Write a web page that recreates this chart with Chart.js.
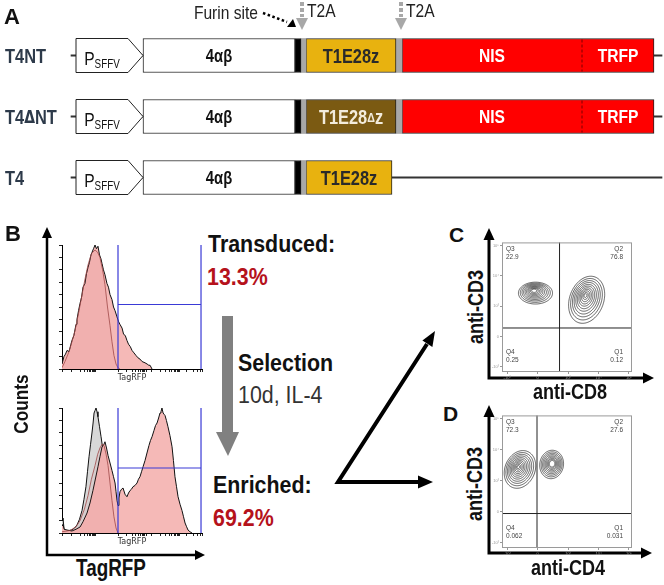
<!DOCTYPE html>
<html>
<head>
<meta charset="utf-8">
<script src="https://cdn.jsdelivr.net/npm/chart.js@4/dist/chart.umd.min.js"></script>
<style>
  body { margin: 0; background: #fff; width: 664px; height: 585px; overflow: hidden; position: relative; }
  canvas, svg { position: absolute; }
  .t { position: absolute; line-height: 1; white-space: nowrap; transform: translateY(-50%) scaleX(0.82);
       transform-origin: left center; font-family: 'Liberation Sans', Arial, sans-serif; color: #111; }
  .w { transform: translateY(-50%) scaleX(0.93); }
  .c { transform: translate(-50%, -50%) scaleX(0.82); transform-origin: center center; }
  .r { transform: translate(-50%, -50%) rotate(-90deg) scaleX(0.82); transform-origin: center center; }
  .b { font-weight: bold; }
  .L { font-weight: bold; transform: translateY(-50%); }
  .red { color: #b5121b; }
</style>
</head>
<body>

<svg width="664" height="585" viewBox="0 0 664 585">
  <!-- panel B outer axes -->
  <polyline points="47,236 47,555 196,555" fill="none" stroke="#000" stroke-width="2.5"/>
  <polygon points="42,238 52,238 47,227" fill="#000"/>
  <polygon points="195,550 195,560 205,555" fill="#000"/>
  <!-- selection arrow -->
  <polygon points="222,316 233,316 233,432 239,432 228,456 216,432 222,432" fill="#808080"/>
  <!-- arrows to C and D -->
  <polyline points="427,344 338,482 420,482" fill="none" stroke="#000" stroke-width="4" stroke-linejoin="miter"/>
  <polygon points="435,331 432.4,347.1 422.4,340.5" fill="#000"/>
  <polygon points="418,475.5 418,488.5 433,482" fill="#000"/>
  <!-- C axes -->
  <polyline points="489,238 489,378 644,378" fill="none" stroke="#000" stroke-width="3"/>
  <polygon points="483.5,240 494.5,240 489,228" fill="#000"/>
  <polygon points="643,372.5 643,383.5 654,378" fill="#000"/>
  <!-- D axes -->
  <polyline points="489,415 489,553 642,553" fill="none" stroke="#000" stroke-width="3"/>
  <polygon points="483.5,417 494.5,417 489,405" fill="#000"/>
  <polygon points="641,547.5 641,558.5 652,553" fill="#000"/>
</svg>

<canvas id="constructs" width="664" height="208" style="left:0;top:0"></canvas>
<canvas id="hist1" width="147" height="141" style="left:59px;top:242px"></canvas>
<canvas id="hist2" width="147" height="142" style="left:59px;top:405px"></canvas>
<canvas id="flowC" width="144" height="141" style="left:490px;top:239px"></canvas>
<canvas id="flowD" width="144" height="144" style="left:490px;top:412px"></canvas>

<div class="t L" style="left:4px;top:17px;font-size:22px">A</div>
<div class="t L" style="left:5px;top:234px;font-size:22px">B</div>
<div class="t L" style="left:449px;top:234px;font-size:21px">C</div>
<div class="t L" style="left:443px;top:413px;font-size:21px">D</div>

<div class="t b r" style="left:20px;top:404px;font-size:21px">Counts</div>
<div class="t b c" style="left:111px;top:568px;font-size:23px">TagRFP</div>
<div class="t b w" style="left:208px;top:243.5px;font-size:23px">Transduced:</div>
<div class="t b w red" style="left:207px;top:276.5px;font-size:23px">13.3%</div>
<div class="t b w" style="left:238px;top:363px;font-size:23px">Selection</div>
<div class="t w" style="left:238px;top:395px;font-size:23px;color:#333">10d, IL-4</div>
<div class="t b w" style="left:213px;top:485px;font-size:23px">Enriched:</div>
<div class="t b w red" style="left:213px;top:518px;font-size:23px">69.2%</div>

<div class="t b r" style="left:476px;top:307px;font-size:22px">anti-CD3</div>
<div class="t b c" style="left:570px;top:392px;font-size:22px">anti-CD8</div>
<div class="t b r" style="left:475px;top:484px;font-size:22px">anti-CD3</div>
<div class="t b c" style="left:568px;top:568px;font-size:22px">anti-CD4</div>

<script>
/* ---------- Panel A: construct maps (positions along the vector, in map units) ---------- */
var rows = ['T4NT', 'T4ΔNT', 'T4'];
var backboneSpan = [[71, 662], [71, 662], [71, 662]];
var promoterSpan = [[76, 143], [76, 143], [76, 143]];
var tcrSpan = [[143, 295], [143, 295], [143, 295]];
var furinSpan = [[295, 301], [295, 301], [295, 301]];
var t2aSpan1 = [[301, 306], [301, 306], [301, 306]];
var carSpan = [[306, 396], [306, 396], [306, 392]];
var t2aSpan2 = [[396, 402], [396, 402], null];
var nisSpan = [[402, 582], [402, 582], null];
var trfpSpan = [[582, 654], [582, 654], null];
var carColors = ['#e8b20f', '#7b5a12', '#e8b20f'];
var t2aSites = [302, 401];
var furinMark = 291;

/* ---------- Panel B: TagRFP histograms (channel, % of max) ---------- */
var transX = [0, 14, 25, 36, 50, 64, 71, 85, 100, 107, 118, 129, 140, 150, 164, 175, 186, 196, 207, 214, 225, 236, 246, 257, 268, 278, 286, 296, 307, 321, 332, 343, 357, 368, 379, 393, 405, 414, 429, 440, 452, 464, 475, 488, 500, 514, 528, 543, 557, 572, 593, 608, 620, 629, 643];
var transY = [4, 10, 12, 15, 14, 20, 23, 27, 36, 40, 47, 53, 58, 66, 69, 77, 82, 86, 92, 94, 97, 100, 97, 99, 92, 89, 85, 80, 76, 69, 66, 60, 56, 50, 47, 42, 38, 36, 33, 28, 27, 23, 20, 18, 15, 13, 11, 9, 8, 6, 5, 4, 3, 3, 0];
var ctrl1X = [0, 21, 50, 71, 93, 120, 143, 165, 186, 210, 236, 255, 271, 290, 307, 325, 343, 357, 371, 386, 400, 414];
var ctrl1Y = [1, 6, 14, 22, 31, 46, 60, 73, 84, 93, 96, 94, 90, 80, 68, 50, 35, 22, 11, 4, 1, 0];

var enrX = [0, 7, 15, 36, 71, 100, 129, 150, 179, 200, 221, 240, 257, 271, 286, 296, 307, 318, 329, 343, 357, 368, 379, 386, 393, 400, 407, 414, 425, 436, 450, 464, 475, 486, 496, 507, 521, 536, 546, 557, 568, 579, 593, 607, 621, 632, 643, 657, 668, 679, 690, 700, 707, 714, 722, 729, 736, 746, 757, 771, 786, 796, 807, 818, 829, 843, 857, 868, 879, 890, 900, 914, 929];
var enrY = [6, 7, 3, 2.4, 1.6, 3, 4.8, 9, 16, 24, 34, 44, 53, 61, 69, 70, 73, 68, 62, 56, 50, 45, 40, 33, 26, 22, 28, 33, 35, 36, 31, 29, 32, 34, 35, 37, 38, 40, 43, 45, 49, 53, 58, 64, 70, 74, 77, 82, 86, 88, 92, 96, 97, 100, 96, 95, 94, 90, 85, 78, 69, 58, 45, 37, 29, 23, 18, 13, 8, 5, 2.4, 1, 0];
var grayX = [0, 7, 15, 29, 50, 71, 90, 107, 125, 143, 157, 171, 182, 193, 204, 214, 222, 229, 236, 243, 250, 257, 268, 279, 293, 307, 318, 329, 343, 357, 371, 386, 400];
var grayY = [10, 12, 3, 2, 2, 2.5, 4, 6.4, 11, 18, 27, 37, 49, 61, 71, 80, 88, 96, 98, 100, 97, 93, 85, 77, 66, 54, 44, 34, 24, 14, 7, 2.4, 0];
var ctrl2X = [0, 57, 100, 129, 160, 186, 210, 236, 255, 271, 286, 300, 315, 329, 343, 357, 371, 386, 400];
var ctrl2Y = [1, 2, 5, 10, 19, 30, 43, 54, 63, 68, 71, 70, 63, 54, 40, 26, 13, 4, 0];

var gateX = [400, 993];
var gateLevel = 52;
var histTicks = [0, 70, 130, 160, 180, 195, 207, 217, 225, 232, 238, 400, 460, 500, 525, 545, 560, 572, 582, 590, 600, 640, 700, 740, 765, 785, 800, 812, 822, 830, 840, 890, 940, 970, 990, 1000];

/* ---------- Panels C, D: contour populations (axis decades) ---------- */
var decadeTicks = [0, 1, 2, 3, 4];
var decadeLabels = ['-10³', '0', '10³', '10⁴', '10⁵'];
var ringScale = [1, 0.88, 0.77, 0.67, 0.57, 0.48, 0.39, 0.31, 0.23, 0.15, 0.08];
var quadNames = ['Q3', 'Q2', 'Q4', 'Q1'];
var quadC = [1.72, 1.28];
var quadValsC = ['22.9', '76.8', '0.25', '0.12'];
var cdCLeft = { outer: [0.93, 2.43], dense: [0.88, 2.52], a: 0.56, b: 0.36, tilt: 0, levels: 10 };
var cdCRight = { outer: [2.61, 2.21], dense: [2.57, 2.36], a: 0.56, b: 0.8, tilt: -20, levels: 11 };
var quadD = [0.98, 0.94];
var quadValsD = ['72.3', '27.6', '0.062', '0.031'];
var cdDLeft = { outer: [0.42, 2.36], dense: [0.36, 2.44], a: 0.49, b: 0.63, tilt: -25, levels: 11 };
var cdDRight = { outer: [1.46, 2.52], dense: [1.48, 2.55], a: 0.39, b: 0.46, tilt: -10, levels: 9 };

var FONT = "'Liberation Sans', Arial, sans-serif";
var NARROW = 0.82;

// text in a narrow face: Liberation Sans squeezed horizontally. part = [text, size, dy, bold, family]
function drawParts(ctx, parts, cx, cy, color, align) {
  var fontOf = function(p) { return (p[3] ? 'bold ' : '') + p[1] + 'px ' + (p[4] || FONT); };
  var widths = parts.map(function(p) {
    ctx.font = fontOf(p);
    return ctx.measureText(p[0]).width * NARROW;
  });
  var total = widths.reduce(function(a, b) { return a + b; }, 0);
  var x = align === 'left' ? cx : (align === 'right' ? cx - total : cx - total / 2);
  ctx.save();
  ctx.fillStyle = color;
  ctx.textAlign = 'left';
  ctx.textBaseline = 'alphabetic';
  parts.forEach(function(p, i) {
    ctx.save();
    ctx.translate(x, cy + p[2] + 0.36 * p[1]);
    ctx.scale(NARROW, 1);
    ctx.font = fontOf(p);
    ctx.fillText(p[0], 0, 0);
    ctx.restore();
    x += widths[i];
  });
  ctx.restore();
}

// split a row name so its delta uses a known face
function nameParts(name) {
  return name.split(/(Δ)/).filter(Boolean).map(function(s) {
    return s === 'Δ' ? [s, 17, 0, true, "'DejaVu Sans', sans-serif"] : [s, 20, 0, true];
  });
}

/* draws promoter arrows, dashed NIS|TRFP junction, box labels, row names, T2A / furin marks */
var constructPlugin = {
  id: 'construct',
  afterDatasetsDraw: function(chart) {
    var ctx = chart.ctx;
    var xs = chart.scales.x, ys = chart.scales.y;
    ctx.save();
    chart.data.datasets.forEach(function(ds, i) {
      var meta = chart.getDatasetMeta(i);
      meta.data.forEach(function(bar, j) {
        if (ds.data[j] == null) return;
        var left = Math.min(bar.x, bar.base), right = Math.max(bar.x, bar.base);
        var top = bar.y - bar.height / 2, bottom = bar.y + bar.height / 2;
        var cx = (left + right) / 2;
        if (ds.promoter) {
          ctx.beginPath();
          ctx.moveTo(left, top); ctx.lineTo(right - 15, top); ctx.lineTo(right, bar.y);
          ctx.lineTo(right - 15, bottom); ctx.lineTo(left, bottom); ctx.closePath();
          ctx.fillStyle = '#fff'; ctx.fill();
          ctx.lineWidth = 1; ctx.strokeStyle = '#222'; ctx.stroke();
          cx = (left + right - 15) / 2;
        }
        if (ds.dashedStart) {
          ctx.beginPath(); ctx.setLineDash([3, 2]);
          ctx.moveTo(left, top + 1); ctx.lineTo(left, bottom - 1);
          ctx.strokeStyle = '#7a0000'; ctx.lineWidth = 1; ctx.stroke();
          ctx.setLineDash([]);
        }
        if (ds.segLabel) {
          var parts = Array.isArray(ds.segLabel[0][0]) ? ds.segLabel[j] : ds.segLabel;
          var col = Array.isArray(ds.labelColor) ? ds.labelColor[j] : ds.labelColor;
          drawParts(ctx, parts, cx, bar.y, col);
        }
      });
    });
    chart.data.labels.forEach(function(name, j) {
      drawParts(ctx, nameParts(name), 5, ys.getPixelForValue(j), '#2d3a4a', 'left');
    });
    t2aSites.forEach(function(s) {
      var px = xs.getPixelForValue(s);
      ctx.beginPath(); ctx.setLineDash([4, 2]);
      ctx.moveTo(px, 2); ctx.lineTo(px, 17);
      ctx.strokeStyle = '#a8a8a8'; ctx.lineWidth = 4; ctx.stroke();
      ctx.setLineDash([]);
      ctx.beginPath(); ctx.moveTo(px - 6, 18); ctx.lineTo(px + 6, 18); ctx.lineTo(px, 30); ctx.closePath();
      ctx.fillStyle = '#a8a8a8'; ctx.fill();
      drawParts(ctx, [['T2A', 19, 0, false]], px + 5, 10, '#222', 'left');
    });
    var fx = xs.getPixelForValue(furinMark);
    drawParts(ctx, [['Furin site', 19, 0, false]], fx - 33, 12, '#222', 'right');
    ctx.beginPath(); ctx.setLineDash([2.5, 2.5]);
    ctx.moveTo(fx - 28, 13); ctx.lineTo(fx - 4, 22);
    ctx.strokeStyle = '#000'; ctx.lineWidth = 2.5; ctx.stroke();
    ctx.setLineDash([]);
    ctx.beginPath(); ctx.moveTo(fx - 4, 27); ctx.lineTo(fx + 5, 27); ctx.lineTo(fx + 2, 19); ctx.closePath();
    ctx.fillStyle = '#000'; ctx.fill();
    ctx.restore();
  }
};

function seg(data, color, extra) {
  return Object.assign({
    data: data, backgroundColor: color, borderColor: '#222', borderWidth: 1,
    borderSkipped: false, barThickness: 34, grouped: false, order: 1
  }, extra || {});
}

new Chart(document.getElementById('constructs'), {
  type: 'bar',
  data: {
    labels: rows,
    datasets: [
      seg(promoterSpan, 'rgba(0,0,0,0)', { borderWidth: 0, promoter: true,
        segLabel: [['P', 19, 2.5, false], ['SFFV', 12, 8.5, false]], labelColor: '#111' }),
      seg(tcrSpan, '#fff', { segLabel: [['4αβ', 18, 0, true]], labelColor: '#111' }),
      seg(furinSpan, '#000'),
      seg(t2aSpan1, '#a8a8a8', { borderWidth: 0 }),
      seg(carSpan, carColors, { segLabel: [
        [['T1E28z', 20, 0, true]],
        [['T1E28', 20, 0, true], ['Δ', 13, 1, true], ['z', 20, 0, true]],
        [['T1E28z', 20, 0, true]]
      ], labelColor: ['#2a2a2a', '#f3ecdc', '#2a2a2a'] }),
      seg(t2aSpan2, '#a8a8a8', { borderWidth: 0 }),
      seg(nisSpan, '#ff0000', { borderSkipped: 'end', segLabel: [['NIS', 19, 0, true]], labelColor: '#fff' }),
      seg(trfpSpan, '#ff0000', { borderSkipped: 'start', dashedStart: true, segLabel: [['TRFP', 19, 0, true]], labelColor: '#fff' }),
      seg(backboneSpan, '#333', { borderWidth: 0, barThickness: 1.5, order: 10 })
    ]
  },
  options: {
    indexAxis: 'y', responsive: false, animation: false, events: [],
    layout: { padding: { top: 25, bottom: 0, left: 0, right: 0 } },
    plugins: { legend: { display: false }, tooltip: { enabled: false } },
    scales: {
      x: { type: 'linear', min: 0, max: 664, display: false },
      y: { display: false }
    }
  },
  plugins: [constructPlugin]
});

/* ---------- histograms ---------- */
function pts(xs, ys) { return xs.map(function(x, i) { return { x: x, y: ys[i] }; }); }

function gatePts() {
  return [
    { x: gateX[0], y: 0 }, { x: gateX[0], y: 100 }, { x: gateX[0], y: null },
    { x: gateX[0], y: gateLevel }, { x: gateX[1], y: gateLevel }, { x: gateX[1], y: null },
    { x: gateX[1], y: 0 }, { x: gateX[1], y: 100 }
  ];
}

function histChart(id, datasets) {
  datasets.push({ data: gatePts(), borderColor: '#3a3ad6', borderWidth: 1.2, fill: false, order: 0 });
  return new Chart(document.getElementById(id), {
    type: 'line',
    data: { datasets: datasets },
    options: {
      responsive: false, animation: false, events: [],
      layout: { padding: { top: 3, right: 4, left: 0, bottom: 0 } },
      plugins: { legend: { display: false }, tooltip: { enabled: false } },
      elements: { point: { radius: 0 }, line: { tension: 0 } },
      scales: {
        x: {
          type: 'linear', min: 0, max: 1000,
          afterBuildTicks: function(s) { s.ticks = histTicks.map(function(v) { return { value: v }; }); },
          grid: { drawOnChartArea: false, tickLength: 3, color: '#222' },
          border: { color: '#000' },
          ticks: { display: false },
          title: { display: true, text: 'TagRFP', color: '#333', padding: 0,
                   font: { size: 8, family: "'DejaVu Sans', sans-serif" } },
          afterFit: function(s) { s.height = 14; }
        },
        y: {
          min: 0, max: 100,
          afterBuildTicks: function(s) {
            s.ticks = [0, 10, 20, 30, 40, 50, 60, 70, 80, 90, 100].map(function(v) { return { value: v }; });
          },
          grid: { drawOnChartArea: false, tickLength: 3, color: '#222' },
          border: { color: '#000' },
          ticks: { display: false },
          afterFit: function(s) { s.width = 3; }
        }
      }
    }
  });
}

histChart('hist1', [
  { data: pts(ctrl1X, ctrl1Y), borderColor: '#a04848', borderWidth: 0.8, fill: 'origin', backgroundColor: 'rgba(200,70,70,0.07)', order: 1 },
  { data: pts(transX, transY), borderColor: '#111', borderWidth: 1, fill: 'origin', backgroundColor: '#f5b9b7', order: 2 }
]);

histChart('hist2', [
  { data: pts(ctrl2X, ctrl2Y), borderColor: '#a04848', borderWidth: 0.8, fill: 'origin', backgroundColor: 'rgba(200,70,70,0.07)', order: 1 },
  { data: pts(enrX, enrY), borderColor: '#111', borderWidth: 1, fill: 'origin', backgroundColor: '#f5b9b7', order: 2 },
  { data: pts(grayX, grayY), borderColor: '#111', borderWidth: 1, fill: 'origin', backgroundColor: '#d8d8d8', order: 3 }
]);

/* ---------- contour plots: one closed ring per contour level ---------- */
function ringDatasets(pop) {
  var phi = pop.tilt * Math.PI / 180;
  return ringScale.slice(0, pop.levels).map(function(s) {
    var cx = pop.dense[0] + (pop.outer[0] - pop.dense[0]) * s;
    var cy = pop.dense[1] + (pop.outer[1] - pop.dense[1]) * s;
    var ring = [];
    for (var k = 0; k <= 60; k++) {
      var t = k / 60 * 2 * Math.PI;
      var ex = pop.a * s * Math.cos(t), ey = pop.b * s * Math.sin(t);
      ring.push({ x: cx + ex * Math.cos(phi) - ey * Math.sin(phi), y: cy + ex * Math.sin(phi) + ey * Math.cos(phi) });
    }
    // a little tension keeps Chart.js off its x-sorted fast path, which would mangle closed rings
    return { data: ring, showLine: true, tension: 0.1, borderColor: '#2e2e2e', borderWidth: 0.75, pointRadius: 0 };
  });
}

function quadDatasets(q) {
  return [
    { data: [{ x: q[0], y: -1 }, { x: q[0], y: 5 }], showLine: true, borderColor: '#222', borderWidth: 1, pointRadius: 0 },
    { data: [{ x: -1, y: q[1] }, { x: 5, y: q[1] }], showLine: true, borderColor: '#222', borderWidth: 1, pointRadius: 0 }
  ];
}

var framePlugin = {
  id: 'frame',
  afterDatasetsDraw: function(chart, args, opts) {
    var a = chart.chartArea, ctx = chart.ctx;
    ctx.save();
    ctx.strokeStyle = '#9a9a9a'; ctx.lineWidth = 1;
    ctx.strokeRect(a.left + 0.5, a.top + 0.5, a.right - a.left - 1, a.bottom - a.top - 1);
    ctx.fillStyle = '#444';
    ctx.font = "6.5px 'Liberation Sans', Arial, sans-serif";
    ctx.textBaseline = 'middle';
    var spots = [[a.left + 4, a.top + 7, 'left'], [a.right - 9, a.top + 7, 'right'],
                 [a.left + 4, a.bottom - 20, 'left'], [a.right - 9, a.bottom - 20, 'right']];
    spots.forEach(function(sp, i) {
      ctx.textAlign = sp[2];
      ctx.fillText(quadNames[i], sp[0], sp[1]);
      ctx.fillText(opts.values[i], sp[0], sp[1] + 8);
    });
    ctx.restore();
  }
};

function flowChart(id, q, vals, pops) {
  var ds = [];
  pops.forEach(function(p) { ds = ds.concat(ringDatasets(p)); });
  ds = ds.concat(quadDatasets(q));
  var axis = function(isX) {
    return {
      type: 'linear', min: -0.17, max: 4.1,
      afterBuildTicks: function(s) { s.ticks = decadeTicks.map(function(v) { return { value: v }; }); },
      grid: { drawOnChartArea: false, tickLength: 2, color: '#999' },
      border: { display: false },
      ticks: { font: { size: 4 }, color: '#999', padding: 1, autoSkip: false, maxRotation: 0,
               callback: function(v, i) { return decadeLabels[i]; } },
      afterFit: function(s) { if (isX) s.height = 8; else s.width = 12; }
    };
  };
  return new Chart(document.getElementById(id), {
    type: 'scatter',
    data: { datasets: ds },
    options: {
      responsive: false, animation: false, events: [],
      layout: { padding: { top: 1, right: 2, left: 0, bottom: 0 } },
      plugins: { legend: { display: false }, tooltip: { enabled: false }, frame: { values: vals } },
      scales: { x: axis(true), y: axis(false) }
    },
    plugins: [framePlugin]
  });
}

flowChart('flowC', quadC, quadValsC, [cdCLeft, cdCRight]);
flowChart('flowD', quadD, quadValsD, [cdDLeft, cdDRight]);
</script>
</body>
</html>
